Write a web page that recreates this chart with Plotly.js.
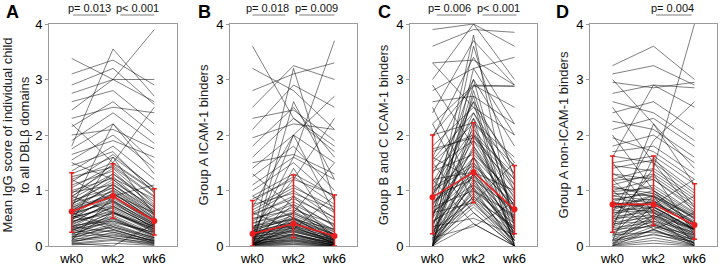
<!DOCTYPE html>
<html>
<head>
<meta charset="utf-8">
<script src="https://cdn.plot.ly/plotly-3.0.1.min.js"></script>
<style>html,body{margin:0;padding:0;background:#fff;}#chart{width:720px;height:265px;}</style>
</head>
<body>
<div id="chart"></div>
<script>
// ---- data ----
const weeks = ["wk0", "wk2", "wk6"];
const panelLetters = ["A", "B", "C", "D"];
const yTitles = [
  "Mean IgG score of individual child<br>to all DBLβ domains",
  "Group A ICAM-1 binders",
  "Group B and C ICAM-1 binders",
  "Group A non-ICAM-1 binders"
];
const pLabels = [
  ["p= 0.013", "p< 0.001"],
  ["p= 0.018", "p= 0.009"],
  ["p= 0.006", "p< 0.001"],
  [null, "p= 0.004"]
];
// medians and interquartile ranges (red)
const medA = [0.62, 0.90, 0.45], q1A = [0.25, 0.50, 0.20], q3A = [1.32, 1.48, 1.03];
const medB = [0.22, 0.40, 0.18], q1B = [0.00, 0.15, 0.00], q3B = [0.82, 1.28, 0.92];
const medC = [0.88, 1.33, 0.66], q1C = [0.22, 0.78, 0.22], q3C = [2.00, 2.22, 1.45];
const medD = [0.75, 0.75, 0.38], q1D = [0.25, 0.37, 0.12], q3D = [1.62, 1.62, 1.12];

// individual children: [wk0, wk2, wk6]
const kidsA = [
[0.02,0.05,0.01],[0.05,0.12,0.03],[0.08,0.2,0.06],[0.1,0.3,0.08],[0.12,0.18,0.1],[0.15,0.35,0.12],
[0.18,0.4,0.15],[0.2,0.28,0.1],[0.22,0.45,0.2],[0.25,0.5,0.18],[0.28,0.55,0.22],[0.3,0.42,0.25],
[0.32,0.6,0.3],[0.35,0.52,0.2],[0.38,0.7,0.35],[0.4,0.65,0.28],[0.42,0.8,0.4],[0.45,0.58,0.32],
[0.48,0.75,0.38],[0.5,0.9,0.42],[0.52,0.68,0.3],[0.55,0.85,0.45],[0.58,1.0,0.5],[0.6,0.78,0.36],
[0.62,0.95,0.48],[0.65,0.88,0.4],[0.68,1.1,0.55],[0.7,0.92,0.6],[0.72,1.05,0.52],[0.75,1.2,0.65],
[0.78,0.98,0.44],[0.8,1.15,0.7],[0.85,1.25,0.62],[0.9,1.3,0.8],[0.95,1.4,0.75],[1.0,1.22,0.85],
[1.05,1.45,0.9],[1.1,1.35,0.68],[1.2,1.5,1.0],[1.3,1.6,1.05],[1.35,1.8,1.2],[1.45,1.7,0.95],
[1.55,2.0,1.4],[1.65,1.9,1.6],[1.75,2.2,1.3],[1.9,2.4,1.85],[2.0,2.1,1.75],[2.15,2.6,2.0],
[2.3,2.5,2.4],[2.45,3.0,2.6],[2.6,2.8,2.2],[2.75,3.0,3.0],[2.9,3.2,2.55],[3.1,3.35,2.9],
[3.38,3.0,3.9],[0.3,0.15,0.05],[0.6,0.35,0.15],[0.9,0.6,0.25],[1.2,0.8,0.3],[0.45,1.6,0.55],
[0.1,0.9,1.1],[0.7,2.2,1.5],[1.5,1.2,0.6],[2.2,1.5,2.5],[0.05,0.0,0.4],[1.8,3.55,2.7],
[0.03,0.1,0.02],[0.06,0.25,0.05],[0.09,0.15,0.04],[0.13,0.38,0.14],[0.17,0.22,0.07],[0.21,0.48,0.16],
[0.24,0.33,0.12],[0.27,0.62,0.26],[0.31,0.5,0.19],[0.34,0.72,0.33],[0.37,0.45,0.24],[0.41,0.82,0.37],
[0.44,0.62,0.27],[0.47,0.95,0.46],[0.51,0.72,0.34],[0.54,1.02,0.5],[0.57,0.82,0.4],[0.63,1.12,0.58],
[0.67,0.9,0.47],[0.74,1.3,0.72],[0.82,1.05,0.56],[0.88,1.48,0.98],[0.97,1.1,0.63],[1.15,1.65,1.03],
[1.25,1.42,0.88],[0.15,0.6,0.35],[0.35,0.25,0.1],[0.55,0.3,0.08]
];
const kidsB = [
[0,0.02,0],[0.01,0.05,0],[0.02,0.08,0.01],[0.03,0.1,0.02],[0.04,0.12,0.03],[0.05,0.15,0.02],
[0.06,0.18,0.05],[0.08,0.2,0.06],[0.1,0.22,0.04],[0.12,0.25,0.08],[0.14,0.28,0.1],[0.16,0.3,0.12],
[0.18,0.35,0.1],[0.2,0.4,0.15],[0.22,0.38,0.18],[0.24,0.45,0.2],[0.26,0.42,0.16],[0.28,0.5,0.22],
[0.3,0.55,0.25],[0.33,0.6,0.2],[0.36,0.48,0.3],[0.4,0.7,0.28],[0.45,0.8,0.35],[0.5,0.65,0.4],
[0.55,0.9,0.45],[0.6,1.0,0.5],[0.7,1.1,0.6],[0.8,1.25,0.75],[0.9,1.3,0.9],[1.0,1.5,0.85],
[1.1,1.6,1.2],[1.25,1.8,1.0],[1.4,2.0,1.5],[1.5,1.65,1.3],[1.6,2.3,1.8],[1.8,2.5,1.6],
[1.95,2.2,2.1],[2.1,2.9,2.5],[2.3,2.45,1.9],[2.5,3.25,3.0],[2.8,3.1,3.3],[3.2,2.8,2.1],
[3.6,2.3,1.7],[0.0,0.9,0.1],[0.05,1.4,0.3],[0.1,2.0,0.6],[0.0,2.6,1.2],[0.15,3.2,0.8],
[0.3,1.2,2.3],[0.6,0.3,0.05],[0.9,0.5,0.1],[1.3,0.7,0.2],[0.02,0.6,1.5],[0.2,1.6,3.7],
[0.7,2.0,2.7],[0.04,0.3,0.9],[0.0,0.45,0.02],[0.12,0.75,0.02],
[0.01,0.03,0],[0.02,0.06,0.01],[0.03,0.09,0.0],[0.04,0.14,0.03],[0.06,0.11,0.02],[0.07,0.19,0.04],
[0.09,0.16,0.05],[0.11,0.26,0.07],[0.13,0.21,0.06],[0.15,0.33,0.09],[0.17,0.27,0.08],[0.19,0.37,0.13],
[0.21,0.32,0.11],[0.23,0.43,0.17],[0.25,0.36,0.14],[0.27,0.52,0.19],[0.32,0.47,0.21],[0.35,0.62,0.26],
[0.42,0.58,0.3],[0.48,0.75,0.38],[0.58,0.85,0.52],[0.65,1.05,0.7],[0.75,0.95,0.65],[0.85,1.2,0.92],
[0.0,0.22,0.0],[0.02,0.35,0.05],[0.08,0.5,0.12]
];
const kidsC = [
[0,0.8,0],[0,1.2,0.1],[0,1.6,0.2],[0,2.2,0],[0,2.8,0.5],[0.02,0.6,0],
[0.05,1.0,0.05],[0.1,0.9,0.3],[0.15,1.4,0.15],[0.2,0.75,0.1],[0.22,1.1,0.25],[0.3,1.3,0.4],
[0.35,0.5,0.2],[0.4,1.8,0.6],[0.45,0.85,0.35],[0.5,1.5,0.5],[0.6,1.25,0.45],[0.65,2.0,0.7],
[0.7,1.0,0.55],[0.75,1.6,0.8],[0.8,1.35,0.62],[0.85,2.4,1.0],[0.9,1.2,0.66],[0.95,1.7,0.9],
[1.0,1.45,0.75],[1.1,2.1,1.2],[1.2,1.33,1.0],[1.3,2.6,1.4],[1.4,1.9,1.1],[1.5,2.2,1.45],
[1.6,3.0,1.8],[1.7,2.0,1.3],[1.8,2.5,2.0],[1.95,3.4,2.2],[2.0,2.22,1.6],[2.2,2.9,2.5],
[2.4,3.7,2.9],[2.6,2.7,2.2],[2.8,3.2,3.4],[3.0,4.0,3.0],[3.3,3.35,2.9],[3.6,3.9,3.85],
[3.9,4.0,3.6],[3.3,2.5,1.5],[2.9,1.8,0.8],[2.5,1.0,0.4],[2.2,0.8,0.1],[1.5,0.6,0],
[0.1,3.6,1.2],[0.0,3.2,2.0],[0.5,3.8,0.3],[1.2,0.4,0],[0.3,2.9,2.88],[2.0,2.88,2.88],
[0.05,2.3,0],[0.6,0.78,1.5],[1.0,2.6,0.0],[0.15,0.35,0.8],
[0,0.9,0.05],[0,1.05,0],[0.03,1.3,0.1],[0.08,0.7,0.02],[0.12,1.15,0.2],[0.18,0.95,0.12],
[0.25,1.45,0.3],[0.28,0.82,0.22],[0.38,1.6,0.45],[0.42,1.05,0.3],[0.55,1.75,0.6],[0.62,1.1,0.5],
[0.72,1.9,0.72],[0.78,1.28,0.6],[0.92,2.05,0.85],[1.05,1.5,0.7],[1.15,2.3,1.1],[1.35,1.65,0.95],
[1.55,2.4,1.3],[1.75,1.95,1.2],[0.0,0.4,0.0],[0.5,2.7,0.15],[0.2,2.0,1.0],[0.9,3.0,0.4],
[1.6,1.2,0.25]
];
const kidsD = [
[0,0.05,0],[0.02,0.15,0.02],[0.05,0.3,0.05],[0.1,0.2,0.08],[0.15,0.4,0.1],[0.2,0.25,0.12],
[0.25,0.5,0.15],[0.3,0.35,0.2],[0.35,0.6,0.18],[0.4,0.45,0.25],[0.45,0.7,0.3],[0.5,0.55,0.22],
[0.55,0.8,0.35],[0.6,0.65,0.28],[0.65,0.9,0.4],[0.7,0.75,0.38],[0.72,0.6,0.3],[0.75,0.85,0.45],
[0.78,0.7,0.32],[0.8,1.0,0.5],[0.85,0.78,0.42],[0.9,1.1,0.6],[0.95,0.9,0.55],[1.0,1.2,0.7],
[1.05,0.95,0.5],[1.1,1.3,0.8],[1.2,1.4,0.9],[1.3,1.2,0.65],[1.4,1.55,1.0],[1.5,1.62,1.12],
[1.62,1.5,0.95],[1.7,1.8,1.3],[1.8,2.0,1.5],[1.95,1.7,1.2],[2.1,2.3,1.8],[2.25,2.1,1.6],
[2.4,2.6,2.1],[2.6,2.4,1.9],[2.75,2.9,2.5],[2.95,2.85,2.95],[3.1,3.25,2.9],[3.25,3.6,3.0],
[3.0,2.2,1.4],[2.5,1.5,0.6],[2.0,1.0,0.3],[1.5,0.6,0.1],[1.0,0.4,0.05],[0.5,1.3,0.2],
[0.2,0.9,0.02],[0.1,1.6,0.7],[0.3,2.2,1.1],[0.0,0.75,1.2],[0.6,1.9,2.6],[0.4,1.4,4.0],
[1.2,0.5,0.0],[0.8,0.3,0.6],[1.6,2.9,2.85],[0.05,0.5,0.9],
[0.01,0.1,0.01],[0.04,0.22,0.03],[0.08,0.35,0.06],[0.12,0.28,0.05],[0.18,0.45,0.13],[0.22,0.38,0.1],
[0.28,0.55,0.16],[0.33,0.42,0.14],[0.38,0.65,0.22],[0.43,0.52,0.2],[0.48,0.72,0.28],[0.53,0.62,0.26],
[0.58,0.82,0.33],[0.63,0.7,0.3],[0.68,0.92,0.42],[0.74,0.78,0.37],[0.79,0.66,0.31],[0.84,0.95,0.48],
[0.9,0.82,0.4],[0.98,1.05,0.58],[1.08,0.88,0.52],[1.18,1.25,0.75],[1.3,1.0,0.55],[1.45,1.35,0.85],
[0.0,0.3,0.0],[0.1,0.55,0.3]
];

// ---- build ----
const kids = [kidsA, kidsB, kidsC, kidsD];
const meds = [medA, medB, medC, medD];
const q1s = [q1A, q1B, q1C, q1D];
const q3s = [q3A, q3B, q3C, q3D];

const W = 720, H = 265;
const pxDomains = [[49, 177], [230, 357], [410, 537], [590, 717]];
const plotTop = 24, plotBottom = 246;
const yDom = [(H - plotBottom) / H, (H - plotTop) / H];
const FONT = "Liberation Sans, Arial, sans-serif";
const RED = "#ee1d1d";
// layout of the p-value brackets (axis units)
const pSpans = [
  [[0.03, 0.85], [1.18, 2.0]],
  [[0.0, 0.8], [1.14, 2.0]],
  [[0.1, 0.82], [1.22, 2.05]],
  [null, [1.06, 1.93]]
];
const pCenters = [[0.44, 1.6], [0.37, 1.55], [0.42, 1.62], [null, 1.47]];
const titleStandoff = [2, 4, 4, 4];

const traces = [];
const layout = {
  width: W, height: H,
  margin: {l: 0, r: 0, t: 0, b: 0},
  paper_bgcolor: "#fff", plot_bgcolor: "#fff",
  showlegend: false,
  font: {family: FONT, size: 13, color: "#000"},
  annotations: [], shapes: []
};

for (let i = 0; i < 4; i++) {
  const sfx = i === 0 ? "" : String(i + 1);
  const xa = "x" + sfx, ya = "y" + sfx;
  const xs = [], ys = [];
  kids[i].forEach(k => {
    for (let j = 0; j < 3; j++) { xs.push(weeks[j]); ys.push(k[j]); }
    xs.push(null); ys.push(null);
  });
  traces.push({
    type: "scatter", mode: "lines", x: xs, y: ys, xaxis: xa, yaxis: ya,
    line: {color: "rgba(0,0,0,0.72)", width: 0.7}, hoverinfo: "skip", connectgaps: false
  });
  traces.push({
    type: "scatter", mode: "lines+markers", x: weeks, y: meds[i], xaxis: xa, yaxis: ya,
    line: {color: RED, width: 1.6},
    marker: {color: RED, size: 6},
    error_y: {
      type: "data", symmetric: false,
      array: meds[i].map((m, j) => q3s[i][j] - m),
      arrayminus: meds[i].map((m, j) => m - q1s[i][j]),
      color: RED, thickness: 1.5, width: 2.5
    },
    cliponaxis: false
  });
  const d = pxDomains[i];
  layout["xaxis" + sfx] = {
    domain: [d[0] / W, d[1] / W], anchor: ya,
    type: "category", categoryarray: weeks, range: [-0.55, 2.55],
    showline: true, mirror: true, linecolor: "#9a9a9a", linewidth: 1,
    ticks: "", showgrid: false, zeroline: false,
    tickfont: {size: 13, family: FONT, color: "#000"}
  };
  layout["yaxis" + sfx] = {
    domain: yDom, anchor: xa, range: [0, 4], dtick: 1,
    showline: true, mirror: true, linecolor: "#9a9a9a", linewidth: 1,
    ticks: "outside", ticklen: 3, tickcolor: "#9a9a9a",
    showgrid: false, zeroline: false,
    tickfont: {size: 13, family: FONT, color: "#000"},
    title: {text: yTitles[i], font: {size: 13, family: FONT, color: "#222"}, standoff: titleStandoff[i]}
  };
  // panel letter
  const letterX = [4, 196, 376, 554][i];
  layout.annotations.push({
    xref: "paper", yref: "paper", x: letterX / W, y: (H - 12) / H,
    xanchor: "left", yanchor: "middle", showarrow: false,
    text: "<b>" + panelLetters[i] + "</b>", font: {size: 18, family: FONT, color: "#000"}
  });
  // p-values
  pLabels[i].forEach((p, k) => {
    if (!p) return;
    const sp = pSpans[i][k];
    layout.annotations.push({
      xref: xa, yref: "paper", x: pCenters[i][k], y: (H - 8) / H,
      xanchor: "center", yanchor: "middle", showarrow: false,
      text: p, font: {size: 11, family: FONT, color: "#111"}
    });
    layout.shapes.push({
      type: "line", xref: xa, yref: "paper",
      x0: sp[0], x1: sp[1], y0: (H - 15) / H, y1: (H - 15) / H,
      line: {color: "#a8a8a8", width: 1.5}
    });
  });
}

Plotly.newPlot("chart", traces, layout, {staticPlot: true, displayModeBar: false});
</script>
</body>
</html>
